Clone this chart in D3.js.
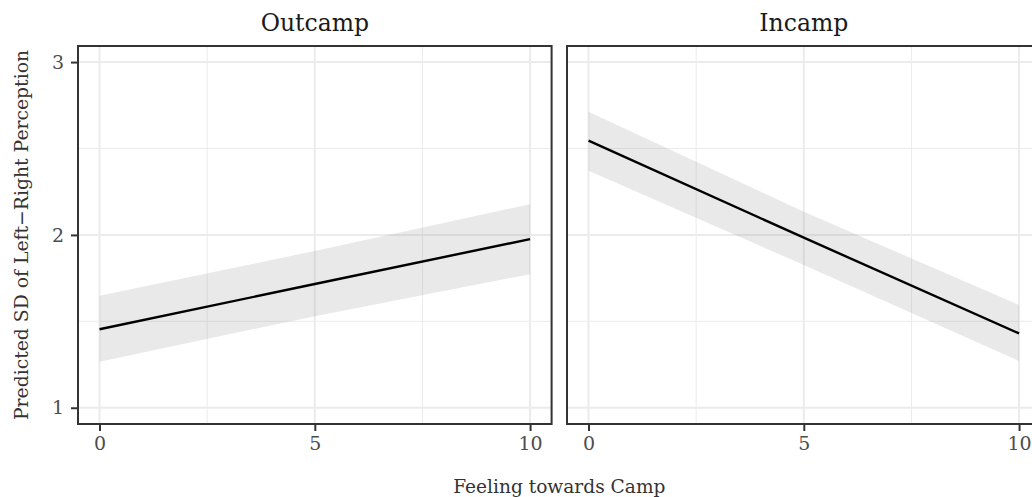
<!DOCTYPE html>
<html>
<head>
<meta charset="utf-8">
<script src="https://cdn.jsdelivr.net/npm/d3@7"></script>
<style>
  body { margin: 0; background: #fff; }
  text { font-family: "DejaVu Serif", "Liberation Serif", serif; }
</style>
</head>
<body>
<div id="chart"></div>
<script>
var width = 1032,
    height = 497

// data
var facets = ["Outcamp", "Incamp"]
var feeling = [0, 5, 10]
var fitOut = [1.454, 1.716, 1.976]
var lowOut = [1.266, 1.53, 1.773]
var highOut = [1.648, 1.907, 2.178]
var fitIn = [2.545, 1.984, 1.430]
var lowIn = [2.371, 1.826, 1.270]
var highIn = [2.713, 2.134, 1.594]
var xTicks = [0, 5, 10]
var xMinor = [2.5, 7.5]
var yTicks = [1, 2, 3]
var yMinor = [1.5, 2.5]

var series = [
  { name: facets[0], fit: fitOut, low: lowOut, high: highOut },
  { name: facets[1], fit: fitIn, low: lowIn, high: highIn }
]

var panelW = 473.6, panelH = 378, panelTop = 46
var panelX = [78, 567]

var svg = d3.select("#chart")
    .append("svg")
    .attr("width", width)
    .attr("height", height)

var x = d3.scaleLinear().domain([-0.5, 10.5]).range([0, panelW])
var y = d3.scaleLinear().domain([0.906, 3.093]).range([panelH, 0])

series.forEach(function(s, i) {
  var g = svg.append("g").attr("transform", "translate(" + panelX[i] + "," + panelTop + ")")

  // minor grid
  g.selectAll(".vminor").data(xMinor).enter().append("line")
    .attr("x1", d => x(d)).attr("x2", d => x(d)).attr("y1", 0).attr("y2", panelH)
    .attr("stroke", "#ebebeb").attr("stroke-width", 1)
  g.selectAll(".hminor").data(yMinor).enter().append("line")
    .attr("y1", d => y(d)).attr("y2", d => y(d)).attr("x1", 0).attr("x2", panelW)
    .attr("stroke", "#ebebeb").attr("stroke-width", 1)
  // major grid
  g.selectAll(".vmajor").data(xTicks).enter().append("line")
    .attr("x1", d => x(d)).attr("x2", d => x(d)).attr("y1", 0).attr("y2", panelH)
    .attr("stroke", "#ebebeb").attr("stroke-width", 2)
  g.selectAll(".hmajor").data(yTicks).enter().append("line")
    .attr("y1", d => y(d)).attr("y2", d => y(d)).attr("x1", 0).attr("x2", panelW)
    .attr("stroke", "#ebebeb").attr("stroke-width", 2)

  var pts = feeling.map((f, k) => ({ f: f, fit: s.fit[k], low: s.low[k], high: s.high[k] }))

  g.append("path").datum(pts)
    .attr("d", d3.area().x(d => x(d.f)).y0(d => y(d.low)).y1(d => y(d.high)))
    .attr("fill", "#999").attr("fill-opacity", 0.22)

  g.append("path").datum(pts)
    .attr("d", d3.line().x(d => x(d.f)).y(d => y(d.fit)))
    .attr("fill", "none").attr("stroke", "#000").attr("stroke-width", 2.4)

  // panel border
  g.append("rect").attr("width", panelW).attr("height", panelH)
    .attr("fill", "none").attr("stroke", "#333").attr("stroke-width", 2)

  // x axis
  var xa = g.append("g").attr("transform", "translate(0," + panelH + ")")
    .call(d3.axisBottom(x).tickValues(xTicks).tickSize(7).tickPadding(6))
  xa.select(".domain").remove()
  xa.selectAll(".tick line").attr("stroke", "#333").attr("stroke-width", 2)
  xa.selectAll(".tick text").attr("fill", "#4d4d4d").style("font-size", "19px")

  if (i == 0) {
    var ya = g.append("g")
      .call(d3.axisLeft(y).tickValues(yTicks).tickFormat(d3.format("d")).tickSize(7).tickPadding(7))
    ya.select(".domain").remove()
    ya.selectAll(".tick line").attr("stroke", "#333").attr("stroke-width", 2)
    ya.selectAll(".tick text").attr("fill", "#4d4d4d").style("font-size", "19px")
  }

  // strip label
  svg.append("text").attr("x", panelX[i] + panelW / 2).attr("y", 31)
    .attr("text-anchor", "middle").style("font-size", "23.5px").attr("fill", "#1a1a1a")
    .text(s.name)
})

svg.append("text").attr("x", (panelX[0] + panelX[1] + panelW) / 2).attr("y", 493)
  .attr("text-anchor", "middle").style("font-size", "18.6px").attr("fill", "#333")
  .text("Feeling towards Camp")

svg.append("text")
  .attr("transform", "translate(28," + (panelTop + panelH / 2) + ") rotate(-90)")
  .attr("text-anchor", "middle").style("font-size", "18.8px").attr("fill", "#333")
  .text("Predicted SD of Left\u2212Right Perception")
</script>
</body>
</html>
